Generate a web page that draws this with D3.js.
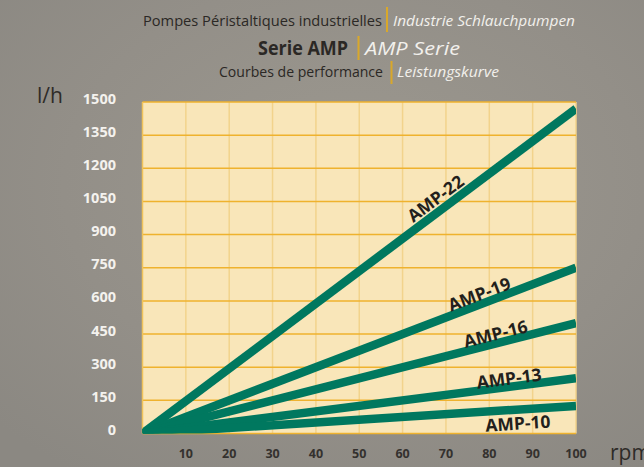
<!DOCTYPE html>
<html><head><meta charset="utf-8">
<script src="https://cdn.jsdelivr.net/npm/d3@7"></script>
<style>html,body{margin:0;padding:0;background:#928f88;}svg{display:block}</style>
</head><body>
<script>
const series = ["AMP-22","AMP-19","AMP-16","AMP-13","AMP-10"];
const flowAt100 = [1470, 750, 500, 250, 125];   // l/h at 100 rpm
const rpmStart = [0, 0, 0, 0, 0];
const rpmEnd = [100, 100, 100, 100, 100];
const xTicks = [10,20,30,40,50,60,70,80,90,100];
const yTicks = [0,150,300,450,600,750,900,1050,1200,1350,1500];
const labelRpm = [69.3, 78.5, 82, 84.8, 86.4];
const labelOffset = [13, 10.5, 10, 9, -13];

const W = 644, H = 467;
const svg = d3.select("body").append("svg").attr("width", W).attr("height", H);
const defs = svg.append("defs");
const rg = defs.append("radialGradient").attr("id","bg").attr("cx","55%").attr("cy","40%").attr("r","75%");
rg.append("stop").attr("offset","0%").attr("stop-color","#9c988f");
rg.append("stop").attr("offset","60%").attr("stop-color","#938f88");
rg.append("stop").attr("offset","100%").attr("stop-color","#8b8882");
svg.append("rect").attr("width",W).attr("height",H).attr("fill","url(#bg)");

const x = d3.scaleLinear().domain([0,100]).range([142.5,576]);
const y = d3.scaleLinear().domain([0,1500]).range([433.5,102]);

defs.append("clipPath").attr("id","clip").append("rect")
  .attr("x", x(0)).attr("y", y(1500)).attr("width", x(100)-x(0)).attr("height", y(0)-y(1500));

// plot background
svg.append("rect").attr("x", x(0)).attr("y", y(1500)).attr("width", x(100)-x(0)).attr("height", y(0)-y(1500))
  .attr("fill","#f9e6b9");

// vertical grid
svg.append("g").selectAll("line").data(xTicks).join("line")
  .attr("x1", d=>x(d)).attr("x2", d=>x(d)).attr("y1", y(1500)).attr("y2", y(0))
  .attr("stroke","#f2d38c").attr("stroke-width",1.5);
// horizontal grid
svg.append("g").selectAll("line").data(yTicks).join("line")
  .attr("x1", x(0)).attr("x2", x(100)).attr("y1", d=>y(d)).attr("y2", d=>y(d))
  .attr("stroke","#efb22e").attr("stroke-width",1.5);
// left edge
svg.append("line").attr("x1",x(0)).attr("x2",x(0)).attr("y1",y(1500)).attr("y2",y(0))
  .attr("stroke","#f0c25a").attr("stroke-width",1.5);

// lines
const lineGen = d3.line().x(d=>x(d[0])).y(d=>y(d[1]));
const g = svg.append("g").attr("clip-path","url(#clip)");
series.forEach((s,i)=>{
  const pts = [[rpmStart[i], flowAt100[i]*rpmStart[i]/100],[rpmEnd[i], flowAt100[i]*rpmEnd[i]/100]];
  g.append("path").attr("d", lineGen(pts)).attr("stroke","#00785f").attr("stroke-width",8.5)
    .attr("fill","none");
});

// line labels
series.forEach((s,i)=>{
  const r = labelRpm[i];
  const px = x(r), py = y(flowAt100[i]*r/100);
  const ang = Math.atan2(y(flowAt100[i]) - y(0), x(100)-x(0));
  const nx = Math.sin(ang), ny = -Math.cos(ang);
  const cx = px - nx*labelOffset[i]*-1, cy = py + ny*labelOffset[i];
  svg.append("text").attr("x", px + Math.sin(ang)*labelOffset[i]).attr("y", py - Math.cos(ang)*labelOffset[i])
    .attr("transform", `rotate(${ang*180/Math.PI} ${px + Math.sin(ang)*labelOffset[i]} ${py - Math.cos(ang)*labelOffset[i]})`)
    .attr("text-anchor","middle").attr("dominant-baseline","central")
    .attr("font-family","Open Sans, sans-serif").attr("font-weight","bold").attr("font-size",17.5)
    .attr("fill","#231f1c").text(s);
});

// y tick labels
svg.append("g").selectAll("text").data(yTicks).join("text")
  .attr("x", 116).attr("y", d=>y(d)-4).attr("text-anchor","end").attr("dominant-baseline","central")
  .attr("font-family","Open Sans, sans-serif").attr("font-weight","bold").attr("font-size",14.5)
  .attr("fill","#f4f2ee").text(d=>d);
// x tick labels
svg.append("g").selectAll("text").data(xTicks).join("text")
  .attr("x", d=>x(d)).attr("y", 453).attr("text-anchor","middle").attr("dominant-baseline","central")
  .attr("font-family","Open Sans, sans-serif").attr("font-weight","bold").attr("font-size",12.5)
  .attr("fill","#34312e").text(d=>d);

// axis unit labels
svg.append("text").attr("x",37).attr("y",103).attr("font-family","Open Sans, sans-serif")
  .attr("font-size",21).attr("fill","#2e2b28").text("l/h");
svg.append("text").attr("x",610).attr("y",460).attr("font-family","Open Sans, sans-serif")
  .attr("font-size",21).attr("fill","#2e2b28").text("rpm");

// titles
function titleLine(yc, left, right, xl0, xl1, xsep, xr0, xr1, size, bold, sepTop, sepBot){
  svg.append("text").attr("x",xl0).attr("y",yc).attr("dominant-baseline","central")
    .attr("font-family","Open Sans, sans-serif").attr("font-size",size).attr("font-weight",bold?"bold":"normal")
    .attr("fill","#2b2825").attr("textLength",xl1-xl0).attr("lengthAdjust","spacingAndGlyphs").text(left);
  svg.append("rect").attr("x",xsep-1).attr("y",sepTop).attr("width",2).attr("height",sepBot-sepTop).attr("fill","#d9a82a");
  svg.append("text").attr("x",xr0).attr("y",yc).attr("dominant-baseline","central")
    .attr("font-family","Open Sans, sans-serif").attr("font-size",size).attr("font-style","italic")
    .attr("fill","#f2f0ec").attr("textLength",xr1-xr0).attr("lengthAdjust","spacingAndGlyphs").text(right);
}
titleLine(20, "Pompes Péristaltiques industrielles", "Industrie Schlauchpumpen", 143, 382, 387, 393, 575, 15, false, 7, 32);
titleLine(47.5, "Serie AMP", "AMP Serie", 258, 348, 358.5, 365, 460, 19, true, 36, 60);
titleLine(71, "Courbes de performance", "Leistungskurve", 219, 383, 391.5, 397, 499, 15, false, 61, 84);
</script>
</body></html>
